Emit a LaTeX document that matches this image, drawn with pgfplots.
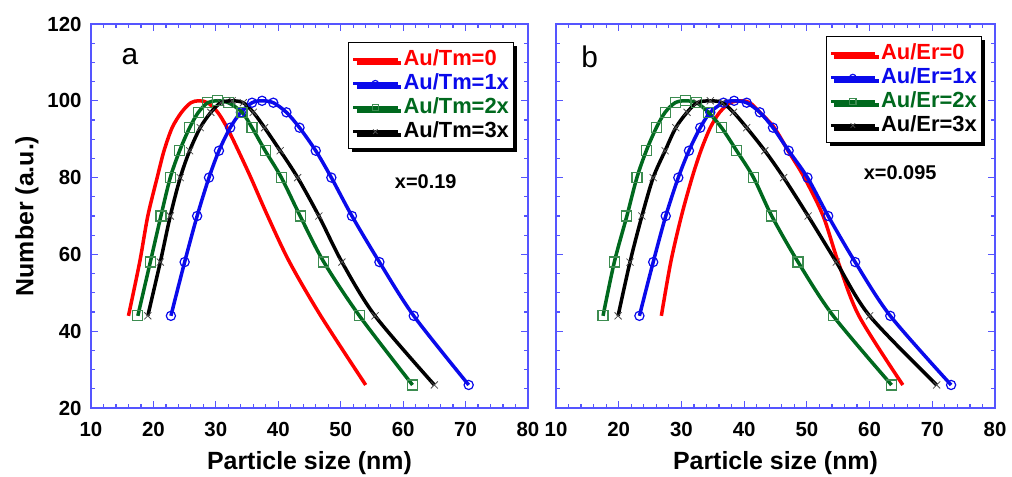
\documentclass[border=0pt]{standalone}
\usepackage{fontspec}
\setmainfont{Liberation Sans}
\usepackage{pgfplots}
\pgfplotsset{compat=1.18}
\usetikzlibrary{shadows}

\definecolor{cred}{RGB}{255,0,0}
\definecolor{cblue}{RGB}{10,10,235}
\definecolor{cgreen}{RGB}{0,105,30}
\definecolor{cgreenl}{RGB}{60,140,80}
\definecolor{axisblue}{RGB}{85,85,255}

\pgfplotsset{
  panel/.style={
    scale only axis, width=437bp, height=384bp,
    xmin=10, xmax=80, ymin=20, ymax=120,
    xtick={10,20,...,80}, ytick={20,40,...,120},
    minor x tick num=4, minor y tick num=3,
    axis line style={draw=axisblue, line width=1.2bp},
    major tick length=7bp, minor tick length=4bp,
    tick style={draw=axisblue, line width=1.2bp},
    tick label style={font=\fontsize{20.5}{24}\selectfont\bfseries},
    xticklabel style={yshift=-11bp},
    yticklabel style={xshift=-6bp},
    /pgf/number format/assume math mode=true,
    xlabel={Particle size (nm)},
    xlabel style={font=\fontsize{25}{28}\selectfont\bfseries, yshift=-8bp},
    legend cell align=left,
    legend style={draw=black, line width=1.2bp, fill=white,
      font=\fontsize{22}{26}\selectfont\bfseries, anchor=north east,
      drop shadow={shadow xshift=3.5bp, shadow yshift=-3.5bp, fill=black, opacity=1},
      inner xsep=3bp, inner ysep=5bp, row sep=0bp,
      nodes={inner sep=1.5bp, text height=16bp, text depth=5bp}},
    legend image code/.code={%
      \draw[mark repeat=2, mark phase=2, #1, line width=3bp, mark size=3.2bp] plot coordinates {(0bp,0bp) (22bp,0bp) (44bp,0bp)};
      \path (47bp,0bp);},
  },
  sred/.style={draw=cred, line width=3.5bp, mark=none, smooth, tension=0.5},
  sblue/.style={draw=cblue, line width=3.5bp, smooth, tension=0.5, mark=o, mark size=4.6bp, mark options={line width=1.2bp, solid}},
  sgreen/.style={draw=cgreen, line width=3.5bp, smooth, tension=0.5, mark=square, mark size=5bp, mark options={draw=cgreenl, line width=1.2bp, fill=none, solid}},
  sblack/.style={draw=black, line width=3.5bp, smooth, tension=0.5, mark=x, mark size=5bp, mark options={draw=black!70, line width=0.8bp, solid}},
}

\begin{document}
\begin{tikzpicture}
\begin{axis}[panel, at={(0bp,0bp)},
  ylabel={Number (a.u.)},
  ylabel style={font=\fontsize{25}{28}\selectfont\bfseries, yshift=2bp},
  legend style={at={(0.968,0.953)}}]
\addplot[sred] coordinates {(16.0,44) (17.8,58) (19.1,70) (20.6,80) (21.7,87) (23.0,93) (24.5,97) (26.0,99.5) (27.3,100) (28.7,99.5) (30.3,97) (31.8,93) (33.6,87) (35.6,80) (38.3,70) (41.8,58) (46.8,44) (54.0,26)};
\addlegendentry{\textcolor{cred}{Au/Tm=0}}
\addplot[sblue] coordinates {(22.8,44) (25.0,58) (27.0,70) (28.9,80) (30.5,87) (32.3,93) (34.0,97) (35.8,99.5) (37.4,100) (39.2,99.5) (41.3,97) (43.4,93) (46.0,87) (48.5,80) (51.8,70) (56.2,58) (61.7,44) (70.5,26)};
\addlegendentry{\textcolor{cblue}{Au/Tm=1x}}
\addplot[sgreen] coordinates {(17.5,44) (19.5,58) (21.2,70) (22.7,80) (24.2,87) (25.8,93) (27.2,97) (28.7,99.5) (30.2,100) (32.0,99.5) (34.2,97) (35.8,93) (37.9,87) (40.5,80) (43.5,70) (47.3,58) (53.0,44) (61.5,26)};
\addlegendentry{\textcolor{cgreen}{Au/Tm=2x}}
\addplot[sblack] coordinates {(19.1,44) (21.1,58) (22.7,70) (24.3,80) (25.8,87) (27.5,93) (29.2,97) (30.8,99.5) (32.6,100) (34.4,99.5) (36.0,97) (37.8,93) (40.3,87) (43.1,80) (46.5,70) (50.2,58) (55.5,44) (65.0,26)};
\addlegendentry{Au/Tm=3x}
\node[font=\fontsize{30}{34}\selectfont] at (rel axis cs:0.089,0.914) {a};
\node[font=\fontsize{20}{24}\selectfont\bfseries] at (rel axis cs:0.766,0.589) {x=0.19};
\end{axis}

\begin{axis}[panel, at={(465bp,0bp)}, width=439bp,
  yticklabels={},
  legend style={at={(0.970,0.969)}}]
\addplot[sred] coordinates {(26.8,44) (28.3,58) (30.0,70) (31.7,80) (33.1,87) (34.6,93) (36.1,97) (37.8,99.5) (39.5,100) (40.9,99.5) (42.5,97) (44.8,93) (47.0,87) (49.6,80) (52.6,70) (55.0,58) (58.3,44) (65.3,26)};
\addlegendentry{\textcolor{cred}{Au/Er=0}}
\addplot[sblue] coordinates {(23.3,44) (25.5,58) (27.5,70) (29.5,80) (31.2,87) (33.0,93) (34.6,97) (36.7,99.5) (38.4,100) (40.4,99.5) (42.5,97) (44.6,93) (47.1,87) (50.1,80) (53.4,70) (57.7,58) (63.3,44) (73.0,26)};
\addlegendentry{\textcolor{cblue}{Au/Er=1x}}
\addplot[sgreen] coordinates {(17.5,44) (19.3,58) (21.3,70) (22.9,80) (24.4,87) (26.0,93) (27.4,97) (29.0,99.5) (30.6,100) (32.4,99.5) (34.3,97) (36.4,93) (38.8,87) (41.5,80) (44.4,70) (48.6,58) (54.2,44) (63.5,26)};
\addlegendentry{\textcolor{cgreen}{Au/Er=2x}}
\addplot[sblack] coordinates {(19.9,44) (21.8,58) (23.7,70) (25.5,80) (27.4,87) (29.1,93) (30.9,97) (32.5,99.5) (34.6,100) (36.5,99.5) (38.3,97) (40.4,93) (43.3,87) (46.3,80) (50.2,70) (54.7,58) (60.0,44) (70.7,26)};
\addlegendentry{Au/Er=3x}
\node[font=\fontsize{30}{34}\selectfont] at (rel axis cs:0.077,0.914) {b};
\node[font=\fontsize{20}{24}\selectfont\bfseries] at (rel axis cs:0.784,0.612) {x=0.095};
\end{axis}
\pgfresetboundingbox
\path[use as bounding box] (-91bp,-69bp) rectangle (921bp,408bp);
\end{tikzpicture}
\end{document}
